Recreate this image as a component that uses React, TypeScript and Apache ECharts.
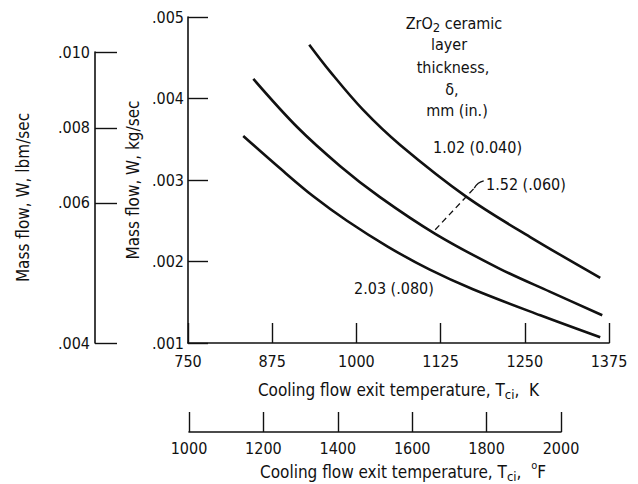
import React, { useEffect, useRef } from "react";
import * as echarts from "echarts";

const FONT = "'DejaVu Sans Condensed', 'DejaVu Sans', sans-serif";
const INK = "#111111";

// Curves: ZrO2 ceramic layer thickness, mm (in.)
const curveLabels = ["1.02 (0.040)", "1.52 (.060)", "2.03 (.080)"];
const tempK_102 = [930, 961, 1010, 1065, 1164, 1258, 1362];
const flow_102 = [0.00466, 0.00433, 0.00386, 0.00343, 0.00279, 0.0023, 0.0018];
const tempK_152 = [847, 912, 976, 1035, 1117, 1213, 1287, 1365];
const flow_152 = [0.00424, 0.00365, 0.00317, 0.00279, 0.00234, 0.00191, 0.00163, 0.00134];
const tempK_203 = [832, 887, 936, 986, 1047, 1109, 1173, 1273, 1362];
const flow_203 = [0.00354, 0.00314, 0.0028, 0.0025, 0.00218, 0.0019, 0.00166, 0.00134, 0.00107];

// Leader line for the 1.52 label
const leaderT = [1117, 1175];
const leaderW = [0.00239, 0.0029];
const hookT = [1175, 1181, 1189];
const hookW = [0.0029, 0.00296, 0.00299];

// Axes
const kelvinTicks = { min: 750, max: 1375, interval: 125 };
const fahrenheitTicks = { min: 1000, max: 2000, interval: 200 };
const kgTicks = { min: 0.001, max: 0.005, interval: 0.001 };
const lbmTickLabels = [".004", ".006", ".008", ".010"];
const lbmTickAtKg = [0.001, 0.00272, 0.00364, 0.00457];

const pair = (xs: number[], ys: number[]) => xs.map((x, i) => [x, ys[i]]);
const dotFmt = (v: number) => "." + v.toFixed(3).split(".")[1];

export default function App() {
  const ref = useRef<HTMLDivElement>(null);
  useEffect(() => {
    const chart = echarts.init(ref.current!, null, { renderer: "svg" });
    const txt = { fontFamily: FONT, color: INK, fontSize: 16 };
    const title = { fontFamily: FONT, color: INK, fontSize: 17 };
    const axisLine = { show: true, lineStyle: { color: INK, width: 1.6 } };
    const tick = { show: true, inside: true, length: 20, lineStyle: { color: INK, width: 1.4 } };
    const subRich = {
      sub: { fontFamily: FONT, color: INK, fontSize: 13, padding: [9, 0, 0, 0] },
      sup: { fontFamily: FONT, color: INK, fontSize: 11, padding: [0, 0, 14, 0] },
    };
    const curveStyle = { color: INK, width: 2.6 };
    const line = (data: number[][], extra: any = {}) => ({
      type: "line",
      xAxisIndex: 0,
      yAxisIndex: 0,
      data,
      smooth: 0.35,
      showSymbol: false,
      symbol: "none",
      lineStyle: curveStyle,
      silent: true,
      ...extra,
    });
    const gText = (text: string, x: number, y: number, align = "center", extra: any = {}) => ({
      type: "text",
      x,
      y,
      silent: true,
      style: {
        text,
        fill: INK,
        fontFamily: FONT,
        fontSize: 16,
        align,
        verticalAlign: "middle",
        ...extra,
      },
    });

    chart.setOption({
      animation: false,
      backgroundColor: "#ffffff",
      textStyle: { fontFamily: FONT },
      grid: [
        { left: 188, top: 17, width: 421, height: 326 },
        { left: 95, top: 52, width: 10, height: 291 },
        { left: 189, top: 412, width: 372, height: 20 },
      ],
      xAxis: [
        {
          gridIndex: 0,
          type: "value",
          ...kelvinTicks,
          axisLine,
          axisTick: tick,
          axisLabel: { ...txt, margin: 10, formatter: (v: number) => String(v) },
          splitLine: { show: false },
          name: "Cooling flow exit temperature, T{sub|ci},  K",
          nameLocation: "middle",
          nameGap: 36,
          nameTextStyle: { ...title, rich: subRich },
        },
        { gridIndex: 1, type: "value", show: false },
        {
          gridIndex: 2,
          type: "value",
          ...fahrenheitTicks,
          position: "bottom",
          axisLine,
          axisTick: tick,
          axisLabel: { ...txt, margin: 8, formatter: (v: number) => String(v) },
          splitLine: { show: false },
        },
      ],
      yAxis: [
        {
          gridIndex: 0,
          type: "value",
          ...kgTicks,
          axisLine,
          axisTick: tick,
          axisLabel: { ...txt, margin: 4, formatter: (v: number) => dotFmt(v) },
          splitLine: { show: false },
          name: "Mass flow, W, kg/sec",
          nameLocation: "middle",
          nameRotate: 90,
          nameGap: 46,
          nameTextStyle: { ...title },
        },
        {
          gridIndex: 1,
          type: "value",
          min: lbmTickAtKg[0],
          max: lbmTickAtKg[lbmTickAtKg.length - 1],
          axisLine,
          axisTick: { ...tick, length: 22, customValues: lbmTickAtKg },
          axisLabel: {
            ...txt,
            margin: 5,
            customValues: lbmTickAtKg,
            formatter: (v: number) => {
              const i = lbmTickAtKg.findIndex((p) => Math.abs(p - v) < 1e-6);
              return i >= 0 ? lbmTickLabels[i] : "";
            },
          },
          splitLine: { show: false },
          name: "Mass flow, W, lbm/sec",
          nameLocation: "middle",
          nameRotate: 90,
          nameGap: 64,
          nameTextStyle: { ...title },
        },
        { gridIndex: 2, type: "value", show: false },
      ],
      series: [
        line(pair(tempK_102, flow_102), { name: curveLabels[0] }),
        line(pair(tempK_152, flow_152), { name: curveLabels[1] }),
        line(pair(tempK_203, flow_203), { name: curveLabels[2] }),
        line(pair(leaderT, leaderW), {
          smooth: false,
          lineStyle: { color: INK, width: 1.3, type: [6, 4] },
        }),
        line(pair(hookT, hookW), {
          smooth: 0.5,
          lineStyle: { color: INK, width: 1.3 },
        }),
      ],
      graphic: [
        gText("ZrO{sub|2} ceramic", 454, 23, "center", { rich: subRich }),
        gText("layer", 449, 44),
        gText("thickness,", 453, 67),
        gText("δ,", 452, 89),
        gText("mm (in.)", 457, 110),
        gText(curveLabels[0], 433, 147, "left"),
        gText(curveLabels[1], 486, 184, "left"),
        gText(curveLabels[2], 354, 288, "left"),
        gText("Cooling flow exit temperature, T{sub|ci},  {sup|o}F", 403, 472, "center", {
          rich: subRich,
          fontSize: 17,
        }),
      ],
    });
    return () => chart.dispose();
  }, []);
  return (
    <div
      ref={ref}
      style={{ position: "fixed", left: 0, top: 0, width: 638, height: 484, background: "#fff" }}
    />
  );
}
